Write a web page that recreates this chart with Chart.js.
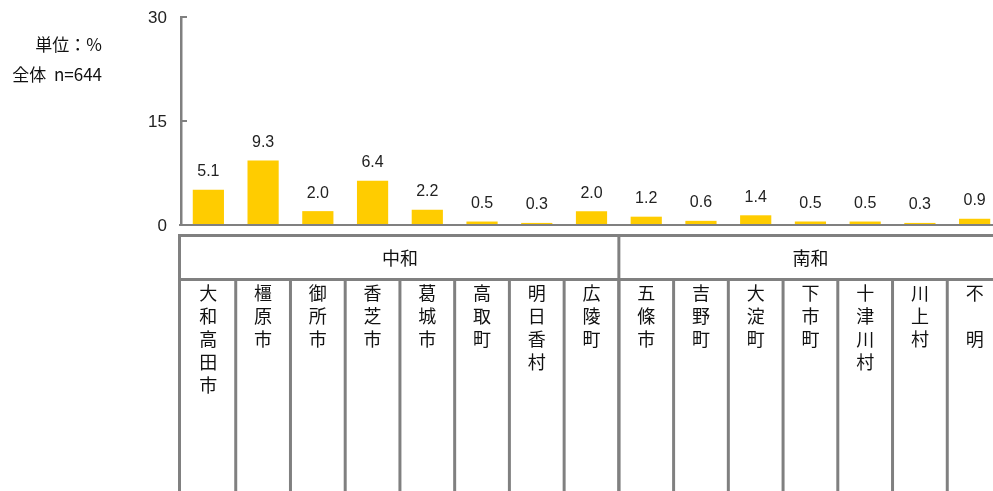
<!DOCTYPE html>
<html lang="ja">
<head>
<meta charset="utf-8">
<script src="https://cdn.jsdelivr.net/npm/chart.js@4.4.1/dist/chart.umd.min.js"></script>
<style>
  html, body { margin: 0; padding: 0; background: #fff; overflow: hidden; }
  #wrap { position: relative; width: 1002px; height: 491px; }
</style>
</head>
<body>
<div id="wrap"><canvas id="chart"></canvas></div>
<script>
// データ
const groups = ['中和', '南和'];
const groupSpans = [8, 7];
const categories = ['大和高田市', '橿原市', '御所市', '香芝市', '葛城市', '高取町', '明日香村', '広陵町',
  '五條市', '吉野町', '大淀町', '下市町', '十津川村', '川上村', '不　明'];
const values = [5.1, 9.3, 2.0, 6.4, 2.2, 0.5, 0.3, 2.0, 1.2, 0.6, 1.4, 0.5, 0.5, 0.3, 0.9];
const yTicks = [0, 15, 30];
const noteLines = ['単位：%', '全体  n=644'];

const FONT = '"Liberation Sans", "Noto Sans CJK JP", sans-serif';
const JP_FONT = '"Noto Sans CJK JP", sans-serif';
const LINE = '#808080';

// 棒の上の数値
const valueLabels = {
  id: 'valueLabels',
  afterDatasetsDraw(chart) {
    const ctx = chart.ctx;
    const meta = chart.getDatasetMeta(0);
    ctx.save();
    ctx.fillStyle = '#222';
    ctx.font = '16px ' + FONT;
    ctx.textAlign = 'center';
    ctx.textBaseline = 'middle';
    meta.data.forEach((bar, i) => {
      ctx.fillText(values[i].toFixed(1), bar.x, bar.y - 18);
    });
    ctx.restore();
  }
};

// 軸目盛・表・注記
const tableAxis = {
  id: 'tableAxis',
  afterDraw(chart) {
    const ctx = chart.ctx;
    const area = chart.chartArea;
    const x = chart.scales.x;
    const y = chart.scales.y;
    const colW = x.getPixelForValue(1) - x.getPixelForValue(0);
    const left = x.getPixelForValue(0) - colW / 2 - 1.5;
    const right = chart.width;
    const bottom = chart.height;
    const tableTop = 235.5;
    const headBottom = 279.5;

    ctx.save();
    ctx.strokeStyle = LINE;
    ctx.lineWidth = 2;

    // 目盛線と目盛ラベル
    ctx.fillStyle = '#222';
    ctx.font = '17px ' + FONT;
    ctx.textAlign = 'right';
    ctx.textBaseline = 'middle';
    yTicks.forEach(t => {
      const py = y.getPixelForValue(t);
      ctx.beginPath();
      ctx.moveTo(area.left, py);
      ctx.lineTo(area.left + 6, py);
      ctx.stroke();
      ctx.fillText(String(t), area.left - 14, py + 1);
    });

    // 基線
    ctx.beginPath();
    ctx.moveTo(area.left - 2, area.bottom);
    ctx.lineTo(right, area.bottom);
    ctx.stroke();

    // 表の枠
    ctx.lineWidth = 3;
    ctx.beginPath();
    ctx.moveTo(left - 1.5, tableTop);
    ctx.lineTo(right, tableTop);
    ctx.moveTo(left, headBottom);
    ctx.lineTo(right, headBottom);
    ctx.moveTo(left, tableTop);
    ctx.lineTo(left, bottom);
    ctx.stroke();

    // 区切り線と地域名
    let idx = 0;
    groupSpans.forEach((span, g) => {
      const start = idx;
      idx += span;
      const gx = x.getPixelForValue(idx - 1) + colW / 2;
      ctx.beginPath();
      ctx.moveTo(gx, tableTop);
      ctx.lineTo(gx, bottom);
      ctx.stroke();
      const gLeft = x.getPixelForValue(start) - colW / 2;
      ctx.fillStyle = '#111';
      ctx.font = '18px ' + JP_FONT;
      ctx.textAlign = 'center';
      ctx.textBaseline = 'middle';
      ctx.fillText(groups[g], (gLeft + gx) / 2, 258);
    });
    for (let i = 1; i < categories.length; i++) {
      const cx = x.getPixelForValue(i) - colW / 2;
      ctx.beginPath();
      ctx.moveTo(cx, headBottom);
      ctx.lineTo(cx, bottom);
      ctx.stroke();
    }

    // 縦書きラベル
    ctx.fillStyle = '#111';
    ctx.font = '18px ' + JP_FONT;
    ctx.textAlign = 'center';
    ctx.textBaseline = 'middle';
    categories.forEach((name, i) => {
      const cx = x.getPixelForValue(i);
      Array.from(name).forEach((ch, k) => {
        ctx.fillText(ch, cx, 293 + k * 23);
      });
    });

    // 注記
    ctx.font = '17px ' + JP_FONT;
    ctx.textAlign = 'right';
    ctx.fillText(noteLines[0], 102, 45);
    ctx.fillText(noteLines[1], 102, 75);
    ctx.restore();
  }
};

new Chart(document.getElementById('chart'), {
  type: 'bar',
  data: {
    labels: categories,
    datasets: [{
      data: values,
      backgroundColor: '#FFCC00',
      borderWidth: 0,
      barPercentage: 0.57,
      categoryPercentage: 1
    }]
  },
  options: {
    responsive: true,
    maintainAspectRatio: false,
    animation: false,
    layout: { padding: { top: 17, bottom: 266, left: 0, right: 0 } },
    plugins: {
      legend: { display: false },
      tooltip: { enabled: false }
    },
    scales: {
      x: { display: false },
      y: {
        min: 0,
        max: 30,
        afterBuildTicks: scale => { scale.ticks = yTicks.map(v => ({ value: v })); },
        afterFit: scale => { scale.width = 181; },
        border: { color: LINE, width: 2.5 },
        grid: { drawOnChartArea: false, drawTicks: false },
        ticks: { display: false }
      }
    }
  },
  plugins: [valueLabels, tableAxis]
});
</script>
</body>
</html>
